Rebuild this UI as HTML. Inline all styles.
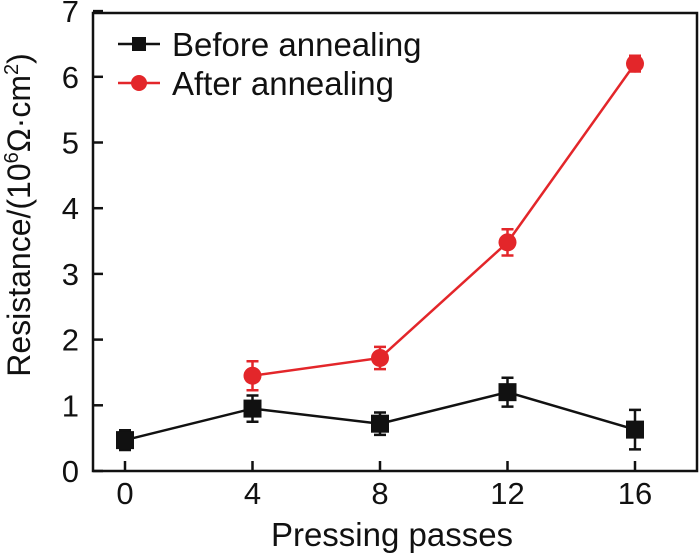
<!DOCTYPE html>
<html><head><meta charset="utf-8"><style>
body{margin:0;background:#fff}
svg text{font-family:"Liberation Sans",Arial,sans-serif;fill:#111}
</style></head><body>
<svg id="chart" width="700" height="554">
<rect x="93" y="13" width="604" height="458" fill="none" stroke="#111" stroke-width="2.5"/>
<g id="axes"></g>
<g id="series"></g>
<text x="392" y="546" font-size="33" text-anchor="middle">Pressing passes</text>
<text transform="translate(30,215) rotate(-90)" font-size="32" text-anchor="middle">Resistance/(10<tspan font-size="20" dy="-12">6</tspan><tspan dy="12">Ω·cm</tspan><tspan font-size="20" dy="-12">2</tspan><tspan dy="12">)</tspan></text>
<g>
<line x1="118" y1="44" x2="160" y2="44" stroke="#111" stroke-width="2.5"/>
<rect x="132" y="37" width="14" height="14" fill="#111"/>
<text x="172" y="56" font-size="33">Before annealing</text>
<line x1="118" y1="83" x2="160" y2="83" stroke="#e3262a" stroke-width="2.5"/>
<circle cx="139" cy="83" r="8" fill="#e3262a"/>
<text x="172" y="95" font-size="33">After annealing</text>
</g>
</svg>
<script>
const xCats=[0,4,8,12,16];
const beforeVals=[0.47,0.95,0.72,1.2,0.63];
const beforeErr=[0.15,0.2,0.17,0.22,0.3];
const afterX=[4,8,12,16];
const afterVals=[1.45,1.72,3.48,6.2];
const afterErr=[0.22,0.17,0.2,0.12];
const yTicks=[0,1,2,3,4,5,6,7];
const NS="http://www.w3.org/2000/svg";
const X=v=>125+v*(635-125)/16;
const Y=v=>471-v*65.7;
function mk(tag,attrs,parent){const e=document.createElementNS(NS,tag);for(const k in attrs)e.setAttribute(k,attrs[k]);parent.appendChild(e);return e;}
const ax=document.getElementById('axes');
yTicks.forEach(t=>{
 const l=mk('line',{x1:93,x2:103,y1:Y(t),y2:Y(t),stroke:'#111','stroke-width':2.5},ax);
 
 
 const tx=mk('text',{x:79,y:Y(t)+11,'font-size':31,'text-anchor':'end'},ax);tx.textContent=t;
 
 
});
xCats.forEach(t=>{
 const l=mk('line',{x1:X(t),x2:X(t),y1:471,y2:461,stroke:'#111','stroke-width':2.5},ax);
 
 
 const tx=mk('text',{x:X(t),y:504,'font-size':31,'text-anchor':'middle'},ax);tx.textContent=t;
 
 
});
const sg=document.getElementById('series');
function series(xs,vs,es,color,shape,name){
 const p=mk('polyline',{points:xs.map((x,i)=>X(x)+','+Y(vs[i])).join(' '),fill:'none',stroke:color,'stroke-width':2.5},sg);
 
 
 xs.forEach((x,i)=>{
  const cx=X(x),t=Y(vs[i]+es[i]),b=Y(vs[i]-es[i]);
  const e=mk('path',{d:`M${cx-6},${t}H${cx+6}M${cx},${t}V${b}M${cx-6},${b}H${cx+6}`,stroke:color,'stroke-width':2.5,fill:'none'},sg);
  
  
  let m;
  if(shape==='sq') m=mk('rect',{x:cx-9,y:Y(vs[i])-9,width:18,height:18,fill:color},sg);
  else m=mk('circle',{cx:cx,cy:Y(vs[i]),r:9,fill:color},sg);
  
  
 });
}
series(xCats,beforeVals,beforeErr,'#111','sq','before');
series(afterX,afterVals,afterErr,'#e3262a','ci','after');
</script>
</body></html>
